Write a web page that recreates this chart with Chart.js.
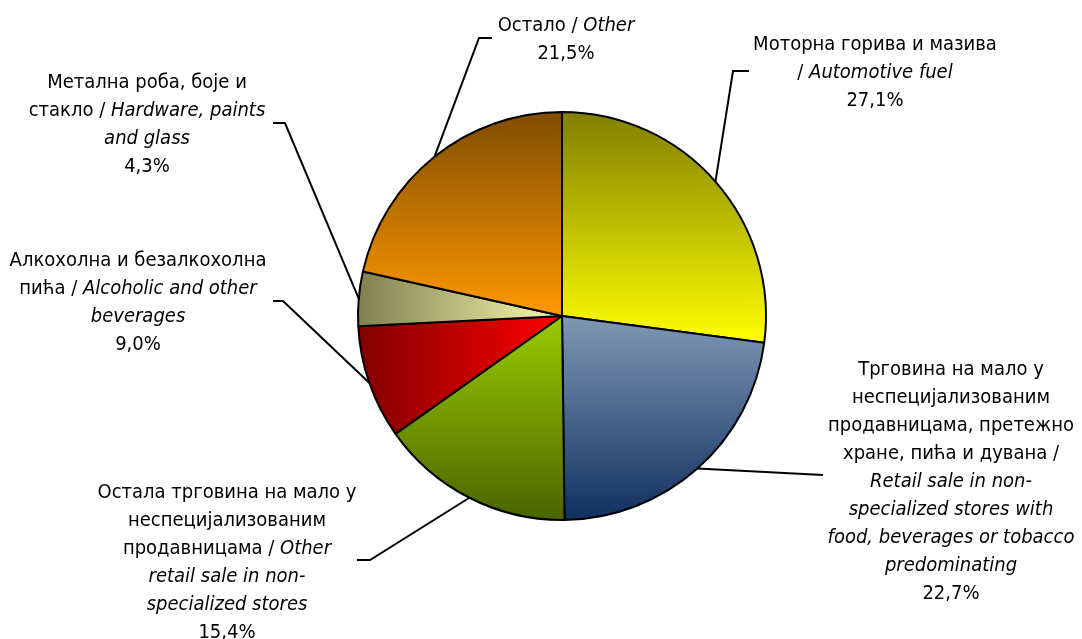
<!DOCTYPE html>
<html>
<head>
<meta charset="utf-8">
<script src="https://cdn.jsdelivr.net/npm/chart.js@4.4.0/dist/chart.umd.min.js"></script>
<style>
  html, body { margin: 0; background: #fff; }
  canvas { display: block; }
</style>
</head>
<body>
<canvas id="chart" width="1082" height="639"></canvas>
<script>
// data
const categories = [
    'Моторна горива и мазива',
    'Трговина на мало у неспецијализованим продавницама, претежно хране, пића и дувана',
    'Остала трговина на мало у неспецијализованим продавницама',
    'Алкохолна и безалкохолна пића',
    'Метална роба, боје и стакло',
    'Остало'
];
const categoriesEn = [
    'Automotive fuel',
    'Retail sale in non-specialized stores with food, beverages or tobacco predominating',
    'Other retail sale in non-specialized stores',
    'Alcoholic and other beverages',
    'Hardware, paints and glass',
    'Other'
];
const shares = [27.1, 22.7, 15.4, 9.0, 4.3, 21.5];

// slice fills: [first stop, last stop, direction]
const fills = [
    ['#7f7f00', '#ffff00', 'v'],
    ['#7f99b4', '#0f2f5f', 'v'],
    ['#99cc00', '#4a6300', 'v'],
    ['#800000', '#ff0000', 'h'],
    ['#7f7f4f', '#fbfab0', 'h'],
    ['#7f4c00', '#ff9900', 'v']
];

// label layout: centre x / first baseline, words per line, leader elbow and end
const labelAnchor = [[875, 50], [951, 375], [227, 498], [138, 266], [147, 88], [566, 31]];
const lineWords = [[4, 3], [4, 1, 2, 5, 4, 3, 4, 1], [5, 1, 3, 4, 2], [3, 5, 1], [4, 4, 2], [3]];
const leaderElbow = [[733, 71], [823, 475], [370, 560], [283, 301], [285, 123], [479, 38]];
const leaderEnd = [[749, 71], [823, 475], [357, 560], [273, 301], [273, 123], [492, 38]];

const fontFamily = "'DejaVu Sans Condensed', 'DejaVu Sans', sans-serif";
const fontSize = 20;
const lineHeight = 28;

const total = shares.reduce((a, b) => a + b, 0);

function sliceGradient(context) {
    const i = context.dataIndex;
    const area = context.chart.chartArea;
    if (i === undefined || !area) return '#888';
    const cx = (area.left + area.right) / 2;
    const cy = (area.top + area.bottom) / 2;
    const r = Math.min(area.right - area.left, area.bottom - area.top) / 2;
    let before = 0;
    for (let k = 0; k < i; k++) before += shares[k];
    const a0 = before / total * 2 * Math.PI - Math.PI / 2;
    const a1 = (before + shares[i]) / total * 2 * Math.PI - Math.PI / 2;
    const pts = [[cx, cy], [cx + r * Math.cos(a0), cy + r * Math.sin(a0)], [cx + r * Math.cos(a1), cy + r * Math.sin(a1)]];
    for (let q = -1; q < 5; q++) {
        const a = q * Math.PI / 2;
        if (a > a0 && a < a1) pts.push([cx + r * Math.cos(a), cy + r * Math.sin(a)]);
    }
    const xs = pts.map(p => p[0]), ys = pts.map(p => p[1]);
    const c = context.chart.ctx;
    const f = fills[i];
    const g = f[2] === 'v'
        ? c.createLinearGradient(0, Math.min(...ys), 0, Math.max(...ys))
        : c.createLinearGradient(Math.min(...xs), 0, Math.max(...xs), 0);
    g.addColorStop(0, f[0]);
    g.addColorStop(1, f[1]);
    return g;
}

function tokens(text, italic) {
    const out = [];
    text.split(' ').forEach(w => {
        const parts = w.split(/(?<=-)/);
        parts.forEach(p => out.push({ t: p, italic: italic }));
    });
    return out;
}

function labelLines(i) {
    const toks = tokens(categories[i], false)
        .concat([{ t: '/', italic: false }])
        .concat(tokens(categoriesEn[i], true));
    const lines = [];
    let pos = 0;
    lineWords[i].forEach(n => {
        lines.push(toks.slice(pos, pos + n));
        pos += n;
    });
    return lines;
}

const labelPlugin = {
    id: 'calloutLabels',
    afterDraw(chart) {
        const ctx = chart.ctx;
        const meta = chart.getDatasetMeta(0);
        ctx.save();
        // leader lines
        ctx.strokeStyle = '#000';
        ctx.lineWidth = 2;
        meta.data.forEach((arc, i) => {
            const mid = (arc.startAngle + arc.endAngle) / 2;
            const px = arc.x + Math.cos(mid) * arc.outerRadius;
            const py = arc.y + Math.sin(mid) * arc.outerRadius;
            ctx.beginPath();
            ctx.moveTo(px, py);
            ctx.lineTo(leaderElbow[i][0], leaderElbow[i][1]);
            ctx.lineTo(leaderEnd[i][0], leaderEnd[i][1]);
            ctx.stroke();
        });
        // texts
        ctx.fillStyle = '#000';
        ctx.textBaseline = 'alphabetic';
        ctx.textAlign = 'left';
        const fontOf = it => (it ? 'italic ' : '') + fontSize + 'px ' + fontFamily;
        shares.forEach((v, i) => {
            const lines = labelLines(i);
            lines.push([{ t: v.toFixed(1).replace('.', ',') + '%', italic: false }]);
            lines.forEach((line, li) => {
                const pieces = [];
                line.forEach((tok, k) => {
                    let s = tok.t;
                    if (k < line.length - 1 && !tok.t.endsWith('-')) s += ' ';
                    pieces.push({ s: s, italic: tok.italic });
                });
                let w = 0;
                pieces.forEach(p => { ctx.font = fontOf(p.italic); p.w = ctx.measureText(p.s).width; w += p.w; });
                let x = labelAnchor[i][0] - w / 2;
                const y = labelAnchor[i][1] + li * lineHeight;
                pieces.forEach(p => {
                    ctx.font = fontOf(p.italic);
                    ctx.fillText(p.s, x, y);
                    x += p.w;
                });
            });
        });
        ctx.restore();
    }
};

new Chart(document.getElementById('chart').getContext('2d'), {
    type: 'pie',
    data: {
        labels: categories,
        datasets: [{
            data: shares,
            backgroundColor: sliceGradient,
            borderColor: '#000',
            borderWidth: 2
        }]
    },
    options: {
        responsive: false,
        animation: false,
        layout: { padding: { left: 357, right: 315, top: 111, bottom: 118 } },
        plugins: {
            legend: { display: false },
            tooltip: { enabled: false }
        }
    },
    plugins: [labelPlugin]
});
</script>
</body>
</html>
